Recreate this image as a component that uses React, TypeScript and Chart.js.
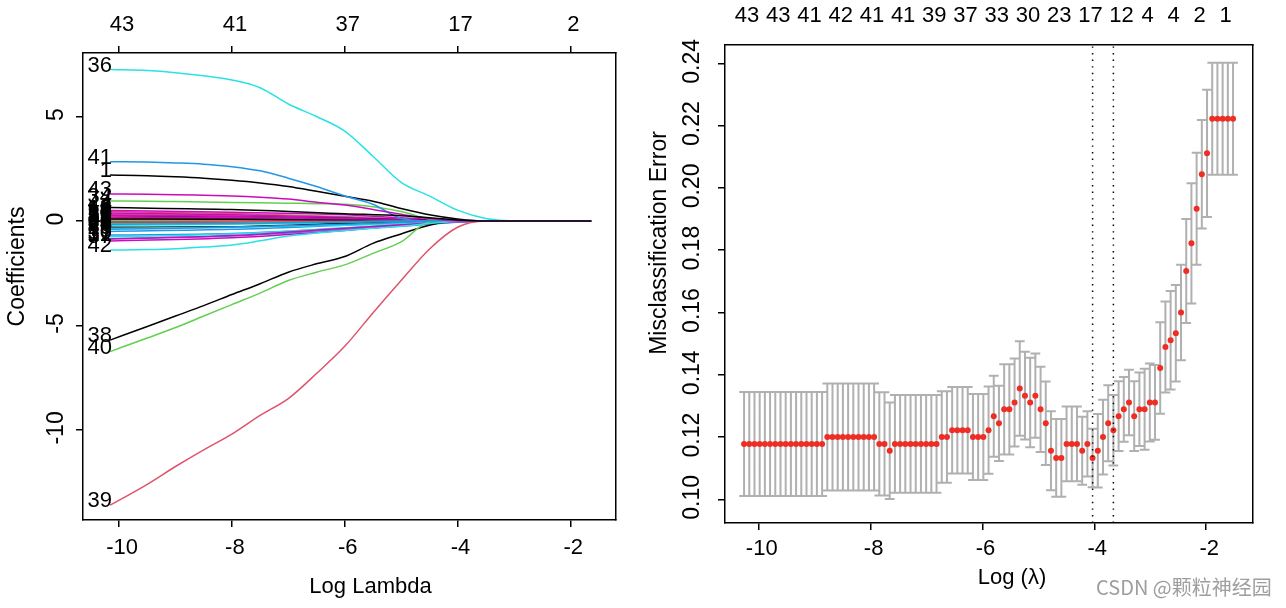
import React, { useEffect, useRef } from "react";
import { Chart, registerables } from "chart.js";

Chart.register(...registerables);

const FONT_FAMILY = "'Liberation Sans', Arial, Helvetica, sans-serif";
const H_FONT = { family: FONT_FAMILY, size: 22 };
const V_FONT = { family: FONT_FAMILY, size: 23 };
const BLACK = "#000000";
const R_PALETTE = ["#000000", "#DF536B", "#61D04F", "#2297E6", "#28E2E5", "#CD0BBC"];

// ---------------- Left panel: lasso coefficient paths ----------------
const leftXTicks = [-10, -8, -6, -4, -2];
const leftTopLabels = ["43", "41", "37", "17", "2"];
const leftYTicks = [5, 0, -5, -10];

const pathLogLambda = [-10.16, -9.5, -9, -8.5, -8, -7.5, -7, -6.5, -6, -5.5, -5, -4.5, -4, -3.5, -3, -2.5, -2, -1.63];
const coef1 = [2.2, 2.17, 2.12, 2.05, 1.95, 1.82, 1.65, 1.42, 1.18, 0.95, 0.6, 0.3, 0.1, 0, 0, 0, 0, 0];
const coef34 = [0.96, 0.95, 0.93, 0.91, 0.89, 0.87, 0.85, 0.83, 0.8, 0.68, 0.45, 0.1, 0, 0, 0, 0, 0, 0];
const coef36 = [7.25, 7.2, 7.1, 6.95, 6.75, 6.38, 5.6, 5.0, 4.3, 3.1, 1.85, 1.2, 0.52, 0.12, 0, 0, 0, 0];
const coef38 = [-5.7, -5.05, -4.55, -4.05, -3.52, -3.0, -2.45, -2.05, -1.7, -1.07, -0.62, -0.2, 0, 0, 0, 0, 0, 0];
const coef39 = [-13.6, -12.6, -11.75, -10.95, -10.2, -9.3, -8.5, -7.3, -6.0, -4.4, -2.85, -1.35, -0.3, 0, 0, 0, 0, 0];
const coef40 = [-6.25, -5.6, -5.1, -4.55, -4.0, -3.45, -2.85, -2.45, -2.1, -1.55, -1.0, -0.05, 0, 0, 0, 0, 0, 0];
const coef41 = [2.84, 2.82, 2.78, 2.72, 2.6, 2.4, 2.05, 1.65, 1.2, 0.8, 0.12, 0, 0, 0, 0, 0, 0, 0];
const coef42 = [-1.39, -1.37, -1.33, -1.25, -1.15, -0.95, -0.72, -0.58, -0.46, -0.35, -0.25, -0.12, -0.03, 0, 0, 0, 0, 0];
const coef43 = [1.29, 1.28, 1.26, 1.23, 1.2, 1.14, 1.05, 0.9, 0.76, 0.55, 0.32, 0.12, 0, 0, 0, 0, 0, 0];

const smallLogLambda = [-10.16, -8, -6, -5, -4, -3.5, -1.63];
const coef3 = [0.45, 0.36, 0.2, 0.1, 0, 0, 0];
const coef4 = [0.35, 0.3, 0.2, 0.1, 0.01, 0, 0];
const coef5 = [-0.67, -0.6, -0.35, -0.2, -0.04, 0, 0];
const coef6 = [-0.2, -0.16, -0.08, -0.03, 0, 0, 0];
const coef7 = [0.5, 0.42, 0.3, 0.15, 0.02, 0, 0];
const coef8 = [-0.05, -0.03, 0, 0, 0, 0, 0];
const coef9 = [0.3, 0.25, 0.12, 0.05, 0, 0, 0];
const coef10 = [0.25, 0.18, 0.08, 0.02, 0, 0, 0];
const coef11 = [0.06, 0.04, 0.01, 0, 0, 0, 0];
const coef12 = [0.12, 0.09, 0.04, 0, 0, 0, 0];
const coef13 = [0.38, 0.3, 0.18, 0.08, 0, 0, 0];
const coef14 = [0.22, 0.2, 0.12, 0.06, 0.01, 0, 0];
const coef15 = [0.2, 0.15, 0.06, 0, 0, 0, 0];
const coef16 = [0.1, 0.08, 0.03, 0, 0, 0, 0];
const coef17 = [-0.85, -0.72, -0.4, -0.25, -0.06, 0, 0];
const coef18 = [0.03, 0.02, 0, 0, 0, 0, 0];
const coef19 = [0.28, 0.22, 0.12, 0.04, 0, 0, 0];
const coef20 = [-0.3, -0.28, -0.12, -0.05, 0, 0, 0];
const coef21 = [0.15, 0.1, 0.03, 0, 0, 0, 0];
const coef22 = [0.05, 0.03, 0, 0, 0, 0, 0];
const coef23 = [-0.5, -0.4, -0.2, -0.1, -0.02, 0, 0];
const coef24 = [-0.35, -0.3, -0.2, -0.12, -0.03, 0, 0];
const coef25 = [0.18, 0.14, 0.08, 0.03, 0, 0, 0];
const coef26 = [-0.1, -0.08, -0.03, 0, 0, 0, 0];
const coef27 = [0.08, 0.05, 0.02, 0, 0, 0, 0];
const coef28 = [-0.12, -0.1, -0.05, -0.01, 0, 0, 0];
const coef29 = [-0.4, -0.3, -0.15, -0.07, 0, 0, 0];
const coef30 = [-0.75, -0.62, -0.32, -0.16, -0.02, 0, 0];
const coef31 = [-0.86, -0.7, -0.35, -0.18, -0.03, 0, 0];
const coef32 = [0.1, 0.08, 0.04, 0.01, 0, 0, 0];
const coef33 = [-0.05, -0.04, -0.01, 0, 0, 0, 0];
const coef35 = [-0.15, -0.12, -0.05, 0, 0, 0, 0];
const coef37 = [-0.96, -0.8, -0.45, -0.22, -0.05, 0, 0];
const coef44 = [0.64, 0.55, 0.35, 0.25, 0.05, 0, 0];

const coefPaths: { v: number; xs: number[]; ys: number[] }[] = [
  { v: 1, xs: pathLogLambda, ys: coef1 },
  { v: 3, xs: smallLogLambda, ys: coef3 },
  { v: 4, xs: smallLogLambda, ys: coef4 },
  { v: 5, xs: smallLogLambda, ys: coef5 },
  { v: 6, xs: smallLogLambda, ys: coef6 },
  { v: 7, xs: smallLogLambda, ys: coef7 },
  { v: 8, xs: smallLogLambda, ys: coef8 },
  { v: 9, xs: smallLogLambda, ys: coef9 },
  { v: 10, xs: smallLogLambda, ys: coef10 },
  { v: 11, xs: smallLogLambda, ys: coef11 },
  { v: 12, xs: smallLogLambda, ys: coef12 },
  { v: 13, xs: smallLogLambda, ys: coef13 },
  { v: 14, xs: smallLogLambda, ys: coef14 },
  { v: 15, xs: smallLogLambda, ys: coef15 },
  { v: 16, xs: smallLogLambda, ys: coef16 },
  { v: 17, xs: smallLogLambda, ys: coef17 },
  { v: 18, xs: smallLogLambda, ys: coef18 },
  { v: 19, xs: smallLogLambda, ys: coef19 },
  { v: 20, xs: smallLogLambda, ys: coef20 },
  { v: 21, xs: smallLogLambda, ys: coef21 },
  { v: 22, xs: smallLogLambda, ys: coef22 },
  { v: 23, xs: smallLogLambda, ys: coef23 },
  { v: 24, xs: smallLogLambda, ys: coef24 },
  { v: 25, xs: smallLogLambda, ys: coef25 },
  { v: 26, xs: smallLogLambda, ys: coef26 },
  { v: 27, xs: smallLogLambda, ys: coef27 },
  { v: 28, xs: smallLogLambda, ys: coef28 },
  { v: 29, xs: smallLogLambda, ys: coef29 },
  { v: 30, xs: smallLogLambda, ys: coef30 },
  { v: 31, xs: smallLogLambda, ys: coef31 },
  { v: 32, xs: smallLogLambda, ys: coef32 },
  { v: 33, xs: smallLogLambda, ys: coef33 },
  { v: 34, xs: pathLogLambda, ys: coef34 },
  { v: 35, xs: smallLogLambda, ys: coef35 },
  { v: 36, xs: pathLogLambda, ys: coef36 },
  { v: 37, xs: smallLogLambda, ys: coef37 },
  { v: 38, xs: pathLogLambda, ys: coef38 },
  { v: 39, xs: pathLogLambda, ys: coef39 },
  { v: 40, xs: pathLogLambda, ys: coef40 },
  { v: 41, xs: pathLogLambda, ys: coef41 },
  { v: 42, xs: pathLogLambda, ys: coef42 },
  { v: 43, xs: pathLogLambda, ys: coef43 },
  { v: 44, xs: smallLogLambda, ys: coef44 },
];

// ---------------- Right panel: cross-validated misclassification ----------------
const cvLogLambda = [
  -1.520, -1.613, -1.706, -1.799, -1.892, -1.985, -2.078, -2.171, -2.264, -2.357,
  -2.450, -2.543, -2.636, -2.729, -2.822, -2.915, -3.008, -3.101, -3.194, -3.287,
  -3.380, -3.473, -3.566, -3.659, -3.752, -3.845, -3.938, -4.031, -4.124, -4.217,
  -4.310, -4.403, -4.496, -4.589, -4.682, -4.775, -4.868, -4.961, -5.054, -5.147,
  -5.240, -5.333, -5.426, -5.519, -5.612, -5.705, -5.798, -5.891, -5.984, -6.077,
  -6.170, -6.263, -6.356, -6.449, -6.542, -6.635, -6.728, -6.821, -6.914, -7.007,
  -7.100, -7.193, -7.286, -7.379, -7.472, -7.565, -7.658, -7.751, -7.844, -7.937,
  -8.030, -8.123, -8.216, -8.309, -8.402, -8.495, -8.588, -8.681, -8.774, -8.867,
  -8.960, -9.053, -9.146, -9.239, -9.332, -9.425, -9.518, -9.611, -9.704, -9.797,
  -9.890, -9.983, -10.076, -10.169, -10.262,
];
const cvMean = [
  0.2222, 0.2222, 0.2222, 0.2222, 0.2222, 0.2111, 0.2044, 0.1933, 0.1822, 0.1733,
  0.1600, 0.1533, 0.1511, 0.1489, 0.1422, 0.1311, 0.1311, 0.1289, 0.1289, 0.1267,
  0.1311, 0.1289, 0.1267, 0.1222, 0.1244, 0.1200, 0.1156, 0.1133, 0.1178, 0.1156,
  0.1178, 0.1178, 0.1178, 0.1133, 0.1133, 0.1156, 0.1244, 0.1289, 0.1333, 0.1311,
  0.1333, 0.1356, 0.1311, 0.1289, 0.1289, 0.1244, 0.1267, 0.1222, 0.1200, 0.1200,
  0.1200, 0.1222, 0.1222, 0.1222, 0.1222, 0.1200, 0.1200, 0.1178, 0.1178, 0.1178,
  0.1178, 0.1178, 0.1178, 0.1178, 0.1178, 0.1178, 0.1156, 0.1178, 0.1178, 0.1200,
  0.1200, 0.1200, 0.1200, 0.1200, 0.1200, 0.1200, 0.1200, 0.1200, 0.1200, 0.1178,
  0.1178, 0.1178, 0.1178, 0.1178, 0.1178, 0.1178, 0.1178, 0.1178, 0.1178, 0.1178,
  0.1178, 0.1178, 0.1178, 0.1178, 0.1178,
];
const cvSD = [
  0.0180, 0.0180, 0.0180, 0.0180, 0.0180, 0.0204, 0.0174, 0.0180, 0.0193, 0.0167,
  0.0153, 0.0155, 0.0158, 0.0146, 0.0147, 0.0120, 0.0125, 0.0130, 0.0118, 0.0112,
  0.0105, 0.0104, 0.0112, 0.0113, 0.0122, 0.0120, 0.0118, 0.0094, 0.0105, 0.0109,
  0.0120, 0.0120, 0.0120, 0.0125, 0.0125, 0.0127, 0.0134, 0.0137, 0.0135, 0.0144,
  0.0141, 0.0152, 0.0141, 0.0145, 0.0145, 0.0121, 0.0130, 0.0140, 0.0138, 0.0138,
  0.0138, 0.0139, 0.0139, 0.0139, 0.0139, 0.0147, 0.0147, 0.0157, 0.0157, 0.0157,
  0.0157, 0.0157, 0.0157, 0.0157, 0.0157, 0.0157, 0.0155, 0.0166, 0.0166, 0.0172,
  0.0172, 0.0172, 0.0172, 0.0172, 0.0172, 0.0172, 0.0172, 0.0172, 0.0172, 0.0167,
  0.0167, 0.0167, 0.0167, 0.0167, 0.0167, 0.0167, 0.0167, 0.0167, 0.0167, 0.0167,
  0.0167, 0.0167, 0.0167, 0.0167, 0.0167,
];
const cvTopIdx = [94, 88, 82, 76, 70, 64, 58, 52, 46, 40, 34, 28, 22, 17, 12, 7, 2];
const cvTopLabels = ["43", "43", "41", "42", "41", "41", "39", "37", "33", "30", "23", "17", "12", "4", "4", "2", "1"];
const lambdaMinIdx = 27;
const lambda1seIdx = 23;
const rightXTicks = [-10, -8, -6, -4, -2];
const rightYTicks = [0.1, 0.12, 0.14, 0.16, 0.18, 0.2, 0.22, 0.24];

// axis limits (R adds 4% on each side of the data range)
const LEFT_X = { min: -10.64, max: -1.19 };
const LEFT_Y = { min: -14.31, max: 8.04 };
const RIGHT_X = { min: -10.603, max: -1.163 };
const RIGHT_Y = { min: 0.0924, max: 0.2459 };

const colorForVar = (v: number) => (v === 1 ? R_PALETTE[0] : R_PALETTE[(v - 2) % 6]);

function axis(o: any) {
  const vertical = o.position === "left" || o.position === "right";
  const tickLen = o.tickLen || 0;
  return {
    type: "linear",
    position: o.position,
    min: o.min,
    max: o.max,
    afterBuildTicks: (s: any) => {
      s.ticks = (o.ticks || []).map((v: number) => ({ value: v }));
    },
    afterFit: (s: any) => {
      if (vertical) s.width = o.size;
      else s.height = o.size;
    },
    ticks: {
      display: !!o.labels,
      autoSkip: false,
      color: BLACK,
      font: o.font || H_FONT,
      padding: o.padding || 0,
      labelOffset: o.labelOffset || 0,
      minRotation: o.rotate ? 90 : 0,
      maxRotation: o.rotate ? 90 : 0,
      crossAlign: o.rotate ? "center" : "near",
      callback: (v: number, i: number) => (o.labels ? o.labels(v, i) : ""),
    },
    grid: {
      display: true,
      drawOnChartArea: false,
      drawTicks: tickLen > 0,
      tickLength: tickLen,
      color: BLACK,
      lineWidth: 1.5,
    },
    border: { display: true, color: BLACK, width: 1.5 },
  };
}

function titlesPlugin(cfg: any) {
  return {
    id: "rTitles",
    afterDraw(chart: any) {
      const { ctx, chartArea: ca } = chart;
      ctx.save();
      ctx.fillStyle = BLACK;
      ctx.textAlign = "center";
      ctx.textBaseline = "middle";
      ctx.font = `${H_FONT.size}px ${FONT_FAMILY}`;
      ctx.fillText(cfg.xTitle, (ca.left + ca.right) / 2 + cfg.xShift, cfg.xTitleY);
      ctx.translate(cfg.yTitleX, (ca.top + ca.bottom) / 2 + cfg.yShift);
      ctx.rotate(-Math.PI / 2);
      ctx.font = `${V_FONT.size}px ${FONT_FAMILY}`;
      ctx.fillText(cfg.yTitle, 0, 0);
      ctx.restore();
    },
  };
}

const pathLabelPlugin = {
  id: "pathLabels",
  afterDatasetsDraw(chart: any) {
    const { ctx } = chart;
    const xs = chart.scales.x;
    const ys = chart.scales.y;
    ctx.save();
    ctx.font = `${H_FONT.size}px ${FONT_FAMILY}`;
    ctx.fillStyle = BLACK;
    ctx.textAlign = "right";
    ctx.textBaseline = "middle";
    chart.data.datasets.forEach((ds: any) => {
      const p = ds.data[0];
      ctx.fillText(ds.label, xs.getPixelForValue(p.x) + 2, ys.getPixelForValue(p.y) - 4);
    });
    ctx.restore();
  },
};

function leftConfig(): any {
  const datasets = coefPaths.map((p) => ({
    type: "line",
    label: String(p.v),
    data: p.xs.map((x, j) => ({ x, y: p.ys[j] })),
    borderColor: colorForVar(p.v),
    borderWidth: 1.5,
    pointRadius: 0,
    cubicInterpolationMode: "monotone",
    order: -p.v,
  }));
  return {
    type: "line",
    data: { datasets },
    options: {
      animation: false,
      responsive: false,
      devicePixelRatio: 1,
      events: [],
      layout: { padding: { left: 0, right: 24, top: 0, bottom: 0 } },
      plugins: { legend: { display: false }, tooltip: { enabled: false } },
      scales: {
        x: axis({ position: "bottom", ...LEFT_X, ticks: leftXTicks, labels: (v: number) => String(v), size: 88, tickLen: 7, padding: 8, labelOffset: 3 }),
        xTop: axis({ position: "top", ...LEFT_X, ticks: leftXTicks, labels: (_v: number, i: number) => leftTopLabels[i], size: 53, tickLen: 7, padding: 8, labelOffset: 3 }),
        y: axis({ position: "left", ...LEFT_Y, ticks: leftYTicks, labels: (v: number) => String(v), size: 83, tickLen: 7, padding: 3, rotate: true, font: V_FONT, labelOffset: -2 }),
        yRight: axis({ position: "right", ...LEFT_Y, ticks: leftYTicks, size: 0 }),
      },
    },
    plugins: [pathLabelPlugin, titlesPlugin({ xTitle: "Log Lambda", xShift: 21, xTitleY: 587, yTitle: "Coefficients", yTitleX: 18, yShift: -20 })],
  };
}

function rightConfig(): any {
  const capHalf = (Math.max(...cvLogLambda) - Math.min(...cvLogLambda)) * 0.01;
  const barPts: any[] = [];
  const capPts: any[] = [];
  cvLogLambda.forEach((lx, i) => {
    const up = cvMean[i] + cvSD[i];
    const lo = cvMean[i] - cvSD[i];
    barPts.push({ x: lx, y: up }, { x: lx, y: lo }, { x: lx, y: null });
    capPts.push(
      { x: lx - capHalf, y: up }, { x: lx + capHalf, y: up }, { x: lx, y: null },
      { x: lx - capHalf, y: lo }, { x: lx + capHalf, y: lo }, { x: lx, y: null }
    );
  });
  const vline = (idx: number) => ({
    type: "line",
    data: [{ x: cvLogLambda[idx], y: RIGHT_Y.min }, { x: cvLogLambda[idx], y: RIGHT_Y.max }],
    borderColor: BLACK,
    borderWidth: 1.5,
    borderDash: [1.4, 5.2],
    pointRadius: 0,
    order: 0,
  });
  const datasets = [
    vline(lambdaMinIdx),
    vline(lambda1seIdx),
    {
      type: "line",
      data: cvLogLambda.map((x, i) => ({ x, y: cvMean[i] })),
      showLine: false,
      pointRadius: 3,
      pointBorderWidth: 0,
      pointBackgroundColor: "#EE2E24",
      order: 1,
    },
    { type: "line", data: barPts, borderColor: "#B0B0B0", borderWidth: 2, pointRadius: 0, spanGaps: false, order: 2 },
    { type: "line", data: capPts, borderColor: "#B0B0B0", borderWidth: 2, pointRadius: 0, spanGaps: false, order: 3 },
  ];
  return {
    type: "line",
    data: { datasets },
    options: {
      animation: false,
      responsive: false,
      devicePixelRatio: 1,
      events: [],
      layout: { padding: { left: 0, right: 33, top: 0, bottom: 0 } },
      plugins: { legend: { display: false }, tooltip: { enabled: false } },
      scales: {
        x: axis({ position: "bottom", ...RIGHT_X, ticks: rightXTicks, labels: (v: number) => String(v), size: 85, tickLen: 7, padding: 6, labelOffset: 3 }),
        xTop: axis({ position: "top", ...RIGHT_X, ticks: cvTopIdx.map((k) => cvLogLambda[k]), labels: (_v: number, i: number) => cvTopLabels[i], size: 45, tickLen: 0, padding: 16, labelOffset: 3 }),
        y: axis({ position: "left", ...RIGHT_Y, ticks: rightYTicks, labels: (v: number) => v.toFixed(2), size: 85, tickLen: 7, padding: 3, rotate: true, font: V_FONT, labelOffset: -2 }),
        yRight: axis({ position: "right", ...RIGHT_Y, ticks: rightYTicks, size: 0 }),
      },
    },
    plugins: [titlesPlugin({ xTitle: "Log (\u03bb)", xShift: 23, xTitleY: 578, yTitle: "Misclassification Error", yTitleX: 20, yShift: -41 })],
  };
}

export default function App() {
  const leftRef = useRef<HTMLCanvasElement>(null);
  const rightRef = useRef<HTMLCanvasElement>(null);
  useEffect(() => {
    const lc = new Chart(leftRef.current as HTMLCanvasElement, leftConfig());
    const rc = new Chart(rightRef.current as HTMLCanvasElement, rightConfig());
    return () => {
      lc.destroy();
      rc.destroy();
    };
  }, []);
  return (
    <div style={{ position: "fixed", left: 0, top: 0, width: 1286, height: 608, background: "#ffffff", overflow: "hidden" }}>
      <canvas ref={leftRef} width={640} height={608} style={{ position: "absolute", left: 0, top: 0, width: 640, height: 608 }} />
      <canvas ref={rightRef} width={646} height={608} style={{ position: "absolute", left: 640, top: 0, width: 646, height: 608 }} />
      <div
        style={{
          position: "absolute",
          left: 1096,
          top: 574,
          fontFamily: "'Noto Sans CJK SC', 'Noto Sans', sans-serif",
          fontSize: 20,
          lineHeight: "26px",
          color: "#9e9e9e",
          whiteSpace: "nowrap",
        }}
      >
        CSDN @颗粒神经园
      </div>
    </div>
  );
}
